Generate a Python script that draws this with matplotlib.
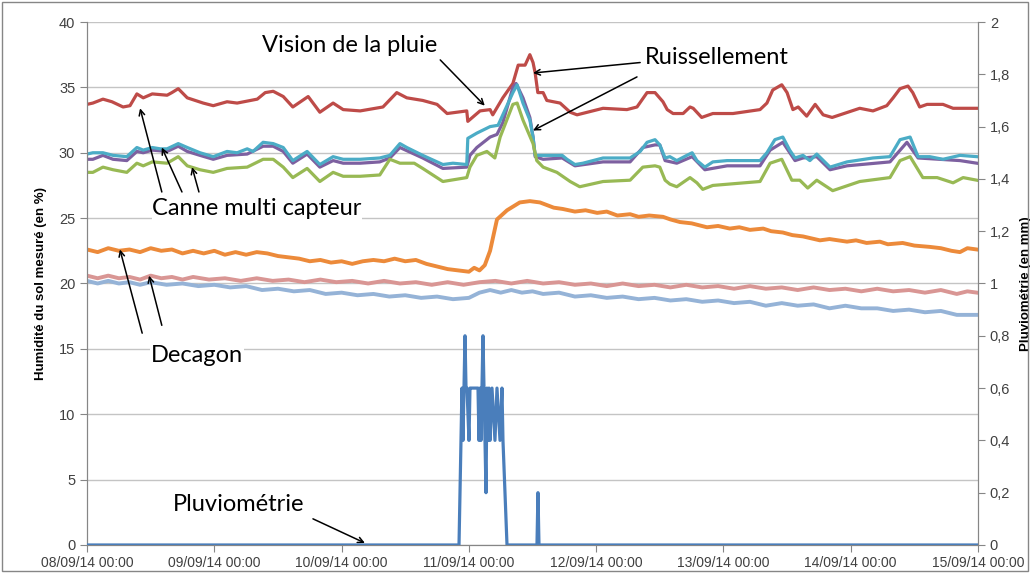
import matplotlib
matplotlib.use("Agg")
import matplotlib.pyplot as plt
from matplotlib.patches import Rectangle
from matplotlib.ticker import FixedLocator, FuncFormatter
import datetime as dt

plt.rcParams.update({
    "font.family": ["Lato", "DejaVu Sans"],
    "font.size": 10,
})

START = dt.datetime(2014, 9, 8)

# hours since 08/09/14 00:00, soil moisture in %
red_h = [0, 1.1, 3.0, 4.7, 6.8, 8.1, 9.4, 10.6, 12.3, 15.1, 16.0, 17.2, 18.9, 21.9, 23.8, 26.4, 28.3,
         32.1, 33.6, 35.1, 37.0, 38.8, 41.7, 43.9, 46.4, 48.3, 51.5, 55.8, 58.4, 60.3, 63.3, 66.0,
         67.9, 71.6, 71.8, 74.1, 76.0, 76.5, 78.4, 80.3, 81.3, 82.6, 83.5, 84.1, 84.5, 85.0, 86.0,
         86.7, 89.2, 91.1, 92.4, 97.3, 101.8, 103.7, 105.6, 107.1, 108.6, 109.4, 110.5, 112.4,
         113.7, 114.3, 115.9, 118.0, 121.8, 126.9, 128.2, 129.3, 131.0, 132.0, 133.1, 134.1, 135.7,
         137.3, 138.8, 140.5, 145.7, 148.2, 150.8, 152.0, 153.3, 154.8, 155.7, 157.0, 158.4, 161.4,
         163.3, 167.8]
red_v = [33.7, 33.8, 34.1, 33.9, 33.5, 33.6, 34.5, 34.2, 34.5, 34.4, 34.6, 34.9, 34.2, 33.8, 33.6,
         33.9, 33.8, 34.1, 34.6, 34.7, 34.3, 33.5, 34.3, 33.1, 33.8, 33.3, 33.2, 33.5, 34.6, 34.2,
         34.0, 33.7, 33.0, 33.2, 32.4, 33.2, 33.3, 32.9, 34.2, 35.3, 36.7, 36.7, 37.5, 36.9, 36.1,
         34.6, 34.6, 34.0, 33.8, 33.1, 32.9, 33.4, 33.3, 33.5, 34.6, 34.6, 33.9, 33.3, 33.0, 33.0,
         33.5, 33.4, 32.7, 33.0, 33.0, 33.3, 33.8, 34.8, 35.2, 34.6, 33.3, 33.5, 32.8, 33.7, 32.9,
         32.7, 33.4, 33.2, 33.6, 34.2, 34.9, 35.1, 34.6, 33.5, 33.7, 33.7, 33.4, 33.4]

teal_h = [0, 1.1, 3.0, 4.9, 7.5, 9.4, 10.6, 12.3, 13.8, 15.1, 17.2, 18.9, 21.3, 23.8, 26.4, 28.3,
          30.2, 31.3, 33.2, 35.1, 37.0, 38.8, 41.5, 43.9, 46.4, 48.3, 51.5, 55.2, 57.1, 59.0, 60.3,
          63.3, 67.1, 69.0, 71.6, 71.8, 73.5, 76.0, 77.5, 78.4, 80.3, 81.1, 82.2, 83.5, 84.1, 84.5,
          86.0, 87.9, 89.6, 90.5, 92.0, 93.5, 97.3, 102.4, 104.3, 105.6, 107.1, 108.0, 109.0, 109.9,
          111.2, 113.1, 114.1, 115.0, 116.5, 118.0, 120.7, 126.9, 128.2, 129.7, 131.2, 132.5, 133.5,
          135.0, 136.3, 137.6, 140.1, 143.3, 148.2, 151.4, 153.3, 155.2, 156.7, 158.9, 161.4, 164.6,
          167.8]
teal_v = [29.9, 30.0, 30.0, 29.8, 29.7, 30.4, 30.2, 30.4, 30.3, 30.3, 30.7, 30.4, 30.0, 29.7, 30.1,
          30.0, 30.3, 30.1, 30.8, 30.7, 30.4, 29.4, 30.1, 29.1, 29.7, 29.5, 29.5, 29.6, 29.8, 30.7,
          30.4, 29.8, 29.1, 29.2, 29.1, 31.1, 31.5, 32.0, 32.1, 32.9, 34.6, 35.2, 33.8, 32.5, 31.2,
          29.8, 29.8, 29.8, 29.8, 29.5, 29.1, 29.2, 29.6, 29.6, 30.1, 30.8, 31.0, 30.6, 29.6, 29.7,
          29.4, 29.8, 30.0, 29.4, 28.9, 29.3, 29.4, 29.4, 30.0, 31.0, 31.2, 30.2, 29.6, 29.8, 29.4,
          29.9, 28.9, 29.3, 29.6, 29.7, 31.0, 31.2, 29.7, 29.7, 29.5, 29.8, 29.7]

purple_h = [0, 1.1, 3.0, 4.9, 7.5, 9.4, 10.6, 12.3, 15.1, 17.2, 18.9, 21.3, 23.8, 26.4, 30.2, 33.2,
            35.1, 37.0, 38.8, 41.5, 43.9, 46.4, 48.3, 51.5, 55.2, 57.1, 59.0, 63.3, 67.1, 71.6, 72.2,
            73.5, 76.0, 77.3, 78.4, 80.3, 80.9, 82.2, 83.5, 84.1, 84.5, 86.0, 89.6, 92.0, 97.3, 102.4,
            104.8, 107.1, 108.0, 109.0, 111.2, 114.1, 116.5, 120.7, 126.9, 128.8, 131.2, 133.5, 135.0,
            137.6, 140.1, 143.3, 151.4, 154.6, 156.7, 164.6, 167.8]
purple_v = [29.5, 29.5, 29.8, 29.5, 29.4, 30.1, 30.0, 30.2, 30.1, 30.5, 30.1, 29.8, 29.5, 29.8, 29.9,
            30.5, 30.5, 30.1, 29.2, 29.9, 28.9, 29.4, 29.2, 29.2, 29.3, 29.6, 30.4, 29.6, 28.8, 28.9,
            29.8, 30.4, 31.2, 31.4, 32.3, 35.0, 35.3, 34.2, 32.7, 31.2, 29.7, 29.5, 29.6, 29.0, 29.3,
            29.3, 30.4, 30.6, 30.6, 29.4, 29.2, 29.7, 28.7, 29.0, 29.0, 30.2, 30.8, 29.4, 29.6, 29.7,
            28.7, 29.0, 29.3, 30.8, 29.6, 29.4, 29.2]

green_h = [0, 1.1, 3.0, 4.9, 7.5, 9.4, 10.6, 12.3, 15.1, 17.2, 18.9, 21.3, 23.8, 26.4, 30.2, 33.2,
           35.1, 37.0, 38.8, 41.5, 43.9, 46.4, 48.3, 51.5, 55.2, 57.1, 59.0, 61.7, 63.3, 67.1, 71.6,
           72.2, 73.5, 75.4, 76.9, 77.9, 80.3, 81.1, 82.2, 84.1, 84.8, 86.0, 88.6, 91.1, 92.9, 97.3,
           102.4, 104.8, 107.1, 108.0, 109.0, 109.9, 111.2, 113.7, 115.0, 116.1, 118.0, 126.9, 128.8,
           131.0, 132.9, 134.4, 135.9, 137.6, 140.6, 145.7, 151.4, 153.3, 155.2, 157.6, 160.3, 163.3,
           165.2, 167.8]
green_v = [28.5, 28.5, 28.9, 28.7, 28.5, 29.2, 29.0, 29.3, 29.2, 29.7, 29.0, 28.7, 28.5, 28.8, 28.9,
           29.5, 29.5, 28.9, 28.1, 28.8, 27.8, 28.5, 28.2, 28.2, 28.3, 29.5, 29.2, 29.2, 28.8, 27.8,
           28.1, 28.9, 29.8, 30.1, 29.6, 31.2, 33.7, 33.8, 32.5, 30.7, 29.4, 28.9, 28.5, 27.8, 27.4,
           27.8, 27.9, 28.9, 29.0, 28.9, 27.9, 27.6, 27.4, 28.1, 27.7, 27.2, 27.5, 27.8, 29.2, 29.5,
           27.9, 27.9, 27.3, 27.9, 27.1, 27.8, 28.1, 29.4, 29.7, 28.1, 28.1, 27.7, 28.1, 27.9]

# Decagon probes, noisy records
orange_h = [0, 2, 4, 6, 8, 10, 12, 14, 16, 18, 20, 22, 24, 26, 28, 30, 32, 34, 36, 38, 40, 42, 44,
            46, 48, 50, 52, 54, 56, 58, 60, 62, 64, 66, 68, 70, 72, 73, 74, 75, 76, 77.3, 79.2, 81.6,
            83.5, 85.4, 86.7, 88, 89.7, 92, 94, 96.2, 98, 100, 102.4, 104, 106, 108.6, 110, 111.8, 114,
            116.9, 119, 121.2, 123, 125, 127.5, 129, 131.2, 133, 135, 138.2, 140, 143.3, 145, 147,
            149.5, 151, 153.8, 156, 158.9, 161, 163, 164.6, 166, 167.8]
orange_v = [22.6, 22.4, 22.7, 22.5, 22.6, 22.4, 22.7, 22.5, 22.6, 22.3, 22.5, 22.3, 22.5, 22.2, 22.4,
            22.2, 22.4, 22.3, 22.1, 22.0, 21.9, 21.7, 21.8, 21.6, 21.7, 21.5, 21.7, 21.8, 21.7, 21.9,
            21.7, 21.8, 21.5, 21.3, 21.1, 21.0, 20.9, 21.2, 21.0, 21.4, 22.5, 24.9, 25.6, 26.2, 26.3,
            26.2, 26.0, 25.8, 25.7, 25.5, 25.6, 25.4, 25.5, 25.2, 25.3, 25.1, 25.2, 25.1, 24.9, 24.7,
            24.6, 24.3, 24.4, 24.2, 24.3, 24.1, 24.2, 24.0, 23.9, 23.7, 23.6, 23.3, 23.4, 23.2, 23.3,
            23.1, 23.2, 23.0, 23.1, 22.9, 22.8, 22.7, 22.5, 22.4, 22.7, 22.6]

pink_h = [0, 2, 4, 6, 8, 10, 12, 14, 16, 18, 20, 23, 26, 29, 32, 35, 38, 41, 44, 47, 50, 53, 56, 59,
          62, 65, 68, 71, 74, 77, 80, 83, 86, 89, 92, 95, 98, 101, 104, 107, 110, 113, 116, 119, 122,
          125, 128, 131, 134, 137, 140, 143, 146, 149, 152, 155, 158, 161, 164, 166, 167.8]
pink_v = [20.6, 20.4, 20.6, 20.4, 20.5, 20.3, 20.6, 20.4, 20.5, 20.3, 20.5, 20.3, 20.4, 20.2, 20.4,
          20.2, 20.3, 20.1, 20.3, 20.1, 20.2, 20.0, 20.2, 20.0, 20.1, 19.9, 20.1, 19.9, 20.1, 20.2,
          20.0, 20.2, 20.0, 20.1, 19.9, 20.0, 19.8, 20.0, 19.8, 19.9, 19.7, 19.9, 19.7, 19.8, 19.6,
          19.8, 19.6, 19.7, 19.5, 19.7, 19.5, 19.6, 19.4, 19.6, 19.4, 19.5, 19.3, 19.5, 19.2, 19.4,
          19.3]

blue_h = [0, 2, 4, 6, 8, 10, 12, 15, 18, 21, 24, 27, 30, 33, 36, 39, 42, 45, 48, 51, 54, 57, 60, 63,
          66, 69, 72, 74, 76, 78, 80, 82, 84, 86, 89, 92, 95, 98, 101, 104, 107, 110, 113, 116, 119,
          122, 125, 128, 131, 134, 137, 140, 143, 146, 149, 152, 155, 158, 161, 164, 167.8]
blue_v = [20.2, 20.0, 20.2, 20.0, 20.1, 19.9, 20.1, 19.9, 20.0, 19.8, 19.9, 19.7, 19.8, 19.5, 19.6,
          19.4, 19.5, 19.2, 19.3, 19.1, 19.2, 19.0, 19.1, 18.9, 19.0, 18.8, 18.9, 19.3, 19.5, 19.3,
          19.5, 19.3, 19.4, 19.2, 19.3, 19.0, 19.1, 18.9, 19.0, 18.8, 18.9, 18.7, 18.8, 18.6, 18.7,
          18.5, 18.6, 18.3, 18.5, 18.3, 18.4, 18.1, 18.3, 18.1, 18.1, 17.9, 18.0, 17.8, 17.9, 17.6,
          17.6]

# rain gauge, mm per record
rain_h = [0, 70.14, 70.70, 70.89, 71.08, 71.27, 71.46, 71.64, 72.02, 72.21, 72.40, 73.72, 73.91,
          74.10, 74.28, 74.47, 74.66, 74.85, 75.04, 75.23, 75.41, 75.60, 75.79, 75.98, 76.36, 76.92,
          77.30, 77.87, 78.24, 78.43, 79.19, 84.84, 85.03, 85.22, 168]
rain_mm = [0, 0, 0.6, 0.4, 0.6, 0.8, 0.6, 0.6, 0.4, 0.6, 0.6, 0.6, 0.4, 0.6, 0.4, 0.6, 0.8, 0.6,
           0.4, 0.2, 0.6, 0.4, 0.6, 0.4, 0.6, 0.4, 0.6, 0.4, 0.6, 0.4, 0, 0, 0.2, 0, 0]

# (hours, values, colour, width) -- Decagon records drawn thicker to read as a noisy band
series = [
    (red_h, red_v, "#BE4B48", 2.3),
    (purple_h, purple_v, "#7D60A0", 2.3),
    (teal_h, teal_v, "#4BACC6", 2.3),
    (green_h, green_v, "#98B954", 2.3),
    (orange_h, orange_v, "#EC8A3A", 2.8),
    (pink_h, pink_v, "#D99694", 2.8),
    (blue_h, blue_v, "#95B3D7", 2.8),
]

AX_GREY = "#868686"
GRID_GREY = "#C4C4C4"
TICK_FONT = "Liberation Sans"


def date_label(h, _):
    return (START + dt.timedelta(hours=float(h))).strftime("%d/%m/%y %H:%M")


def mm_label(y, _):
    return f"{y:.1f}".rstrip("0").rstrip(".").replace(".", ",")


fig = plt.figure(figsize=(10.3, 5.73), dpi=100)
ax = fig.add_axes([0.0845, 0.0489, 0.8650, 0.9127])
ax2 = ax.twinx()

for h, v, c, w in series:
    ax.plot(h, v, color=c, lw=w, solid_joinstyle="round", zorder=3)
ax2.plot(rain_h, rain_mm, color="#4A7EBB", lw=2.3, zorder=3)

ax.set_xlim(0, 168)
ax.set_ylim(0, 40)
ax2.set_ylim(0, 2)

ax.yaxis.set_major_locator(FixedLocator(range(0, 41, 5)))
ax2.yaxis.set_major_locator(FixedLocator([i * 0.2 for i in range(11)]))
ax2.yaxis.set_major_formatter(FuncFormatter(mm_label))
ax.xaxis.set_major_locator(FixedLocator(range(0, 169, 24)))
ax.xaxis.set_major_formatter(FuncFormatter(date_label))

ax.grid(axis="y", color=GRID_GREY, lw=1)
ax.set_axisbelow(True)
for a in (ax, ax2):
    a.spines["top"].set_visible(False)
    for s in ("left", "right", "bottom"):
        a.spines[s].set_color(AX_GREY)
tick_style = dict(direction="out", length=5, color=AX_GREY, labelcolor="#404040",
                  labelfontfamily=TICK_FONT)
ax.tick_params(axis="y", labelsize=10.5, **tick_style)
ax.tick_params(axis="x", labelsize=10, pad=3, **tick_style)
ax2.tick_params(axis="y", labelsize=10.5, **tick_style)

ax.set_ylabel("Humidité du sol mesuré (en %)", fontweight="bold", fontsize=9.5, family=TICK_FONT)
ax.yaxis.set_label_coords(-0.045, 0.5)
ax2.set_ylabel("Pluviométrie (en mm)", fontweight="bold", fontsize=9.5, family=TICK_FONT,
               rotation=90)
ax2.yaxis.set_label_coords(1.047, 0.5)

arrow = dict(arrowstyle="->", color="black", lw=1.1, shrinkA=0, shrinkB=0)
txt = dict(fontsize=17, color="black", va="center", ha="left")
boxed = dict(txt, bbox=dict(facecolor="white", edgecolor="none", pad=0.5))

ax.text(33.0, 38.2, "Vision de la pluie", **txt)
ax.annotate("", xy=(75.0, 33.6), xytext=(66.6, 37.1), arrowprops=arrow)

ax.text(105.2, 37.3, "Ruissellement", **txt)
ax.annotate("", xy=(84.1, 36.1), xytext=(104.3, 36.9), arrowprops=arrow)
ax.annotate("", xy=(84.1, 31.7), xytext=(103.7, 35.8), arrowprops=arrow)

ax.text(12.3, 25.7, "Canne multi capteur", zorder=4, **boxed)
ax.annotate("", xy=(10.0, 33.4), xytext=(14.1, 27.0), arrowprops=arrow)
ax.annotate("", xy=(14.1, 30.4), xytext=(17.9, 27.0), arrowprops=arrow)
ax.annotate("", xy=(19.8, 28.9), xytext=(21.1, 27.0), arrowprops=arrow)

ax.text(12.1, 14.5, "Decagon", zorder=4, **boxed)
ax.annotate("", xy=(6.2, 22.6), xytext=(10.4, 16.2), arrowprops=arrow)
ax.annotate("", xy=(11.7, 20.6), xytext=(14.1, 16.8), arrowprops=arrow)

ax.text(16.2, 3.1, "Pluviométrie", **txt)
ax.annotate("", xy=(52.4, 0.15), xytext=(42.6, 2.0), arrowprops=arrow)

fig.patches.append(Rectangle((0.002, 0.003), 0.996, 0.994, transform=fig.transFigure,
                             fill=False, edgecolor=AX_GREY, lw=1))

fig.savefig("out.png", dpi=100)
